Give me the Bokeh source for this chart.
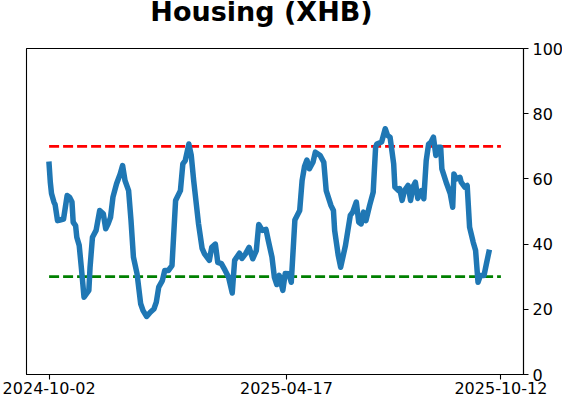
import pandas as pd
from bokeh.plotting import figure
from bokeh.layouts import column
from bokeh.models import Range1d, FixedTicker, DatetimeTickFormatter, Div
from bokeh.embed import file_html
from bokeh.resources import INLINE

dates = [
    "2024-10-02", "2024-10-03", "2024-10-04", "2024-10-06", "2024-10-07", "2024-10-09",
    "2024-10-11", "2024-10-14", "2024-10-17", "2024-10-19", "2024-10-21", "2024-10-22",
    "2024-10-24", "2024-10-25", "2024-10-27", "2024-10-29", "2024-10-31", "2024-11-04",
    "2024-11-05", "2024-11-07", "2024-11-10", "2024-11-13", "2024-11-16", "2024-11-18",
    "2024-11-20", "2024-11-22", "2024-11-24", "2024-11-27", "2024-11-30", "2024-12-02",
    "2024-12-04", "2024-12-07", "2024-12-09", "2024-12-11", "2024-12-14", "2024-12-17",
    "2024-12-19", "2024-12-22", "2024-12-25", "2024-12-28", "2024-12-30", "2025-01-01",
    "2025-01-04", "2025-01-06", "2025-01-09", "2025-01-12", "2025-01-15", "2025-01-19",
    "2025-01-21", "2025-01-23", "2025-01-26", "2025-01-28", "2025-01-30", "2025-02-03",
    "2025-02-06", "2025-02-08", "2025-02-12", "2025-02-14", "2025-02-17", "2025-02-19",
    "2025-02-22", "2025-02-25", "2025-02-28", "2025-03-03", "2025-03-05", "2025-03-09",
    "2025-03-11", "2025-03-14", "2025-03-17", "2025-03-20", "2025-03-23", "2025-03-25",
    "2025-03-28", "2025-03-31", "2025-04-02", "2025-04-05", "2025-04-07", "2025-04-09",
    "2025-04-11", "2025-04-14", "2025-04-16", "2025-04-19", "2025-04-21", "2025-04-23",
    "2025-04-24", "2025-04-28", "2025-04-30", "2025-05-02", "2025-05-04", "2025-05-06",
    "2025-05-09", "2025-05-11", "2025-05-15", "2025-05-18", "2025-05-20", "2025-05-24",
    "2025-05-26", "2025-05-27", "2025-05-30", "2025-06-01", "2025-06-05", "2025-06-07",
    "2025-06-09", "2025-06-11", "2025-06-14", "2025-06-16", "2025-06-18", "2025-06-20",
    "2025-06-22", "2025-06-25", "2025-06-28", "2025-06-30", "2025-07-01", "2025-07-05",
    "2025-07-08", "2025-07-10", "2025-07-12", "2025-07-15", "2025-07-16", "2025-07-19",
    "2025-07-20", "2025-07-22", "2025-07-24", "2025-07-27", "2025-07-29", "2025-07-31",
    "2025-08-02", "2025-08-04", "2025-08-07", "2025-08-09", "2025-08-11", "2025-08-13",
    "2025-08-15", "2025-08-17", "2025-08-19", "2025-08-21", "2025-08-23", "2025-08-24",
    "2025-08-28", "2025-08-31", "2025-09-02", "2025-09-03", "2025-09-05", "2025-09-08",
    "2025-09-09", "2025-09-12", "2025-09-14", "2025-09-16", "2025-09-19", "2025-09-21",
    "2025-09-23", "2025-09-25", "2025-09-28", "2025-09-30", "2025-10-02",
]
values = [
    64.5, 59.0, 55.5, 52.9, 52.1, 47.2,
    47.4, 47.7, 54.9, 54.4, 52.9, 46.7,
    45.7, 42.1, 39.6, 31.9, 23.7, 25.8,
    32.9, 42.1, 44.2, 50.3, 49.3, 44.7,
    46.2, 48.2, 54.4, 58.5, 61.5, 64.1,
    59.5, 56.4, 47.2, 36.0, 30.9, 21.7,
    19.6, 17.8, 19.1, 20.1, 22.2, 26.8,
    28.8, 31.9, 31.9, 33.4, 53.4, 56.4,
    64.6, 65.6, 70.7, 67.2, 59.5, 46.3,
    38.7, 37.0, 35.0, 39.0, 40.0, 34.4,
    34.0, 32.0, 29.8, 25.0, 35.0, 37.2,
    35.6, 37.0, 39.0, 35.5, 38.0, 46.0,
    44.2, 44.5, 41.0, 36.0, 29.8, 27.6,
    30.4, 25.8, 31.0, 30.9, 28.3, 41.0,
    47.4, 50.3, 59.5, 63.8, 65.8, 63.1,
    65.1, 68.2, 67.2, 65.1, 56.4, 51.8,
    50.3, 44.2, 36.5, 32.9, 39.6, 44.2,
    48.8, 49.8, 52.9, 46.7, 46.2, 49.8,
    47.2, 51.8, 55.9, 69.7, 70.7, 71.3,
    75.4, 73.3, 72.8, 64.6, 57.5, 56.4,
    57.0, 53.4, 56.4, 58.0, 53.4, 57.5,
    59.0, 54.0, 56.4, 53.9, 65.6, 70.7,
    71.3, 72.8, 67.2, 69.7, 69.7, 63.1,
    58.5, 55.4, 51.3, 61.5, 60.0, 60.5,
    59.0, 57.5, 58.0, 45.2, 40.6, 38.0,
    28.3, 30.4, 30.4, 34.0, 37.5,
]
tick_dates = ["2024-10-02", "2025-04-17", "2025-10-12"]
y_ticks = [0, 20, 40, 60, 80, 100]
upper_level = 70
lower_level = 30
title_text = "Housing (XHB)"

x = [d.to_pydatetime() for d in pd.to_datetime(dates)]
tdt = pd.to_datetime(tick_dates)
pad = (tdt[-1] - tdt[0]) * 0.05
x_start = (tdt[0] - pad).to_pydatetime()
x_end = (tdt[-1] + pad).to_pydatetime()
tick_ms = [int(t.value // 10**6) for t in tdt]

FONT = "DejaVu Sans"

p = figure(
    x_axis_type="datetime",
    y_axis_location="right",
    frame_width=497, frame_height=326,
    min_border_left=26, min_border_top=8, min_border_bottom=28, min_border_right=39,
    x_range=Range1d(x_start, x_end), y_range=Range1d(0, 100),
    output_backend="svg", toolbar_location=None,
)

p.xgrid.visible = False
p.ygrid.visible = False
p.outline_line_color = "black"
p.outline_line_width = 1.1
p.background_fill_color = "white"
p.border_fill_color = "white"

for ax in (p.xaxis[0], p.yaxis[0]):
    ax.axis_line_color = "black"
    ax.axis_line_width = 1.1
    ax.major_tick_line_color = "black"
    ax.major_tick_line_width = 1.1
    ax.major_tick_out = 5
    ax.major_tick_in = 0
    ax.minor_tick_line_color = None
    ax.major_label_text_font = FONT
    ax.major_label_text_font_size = "16px"
    ax.major_label_text_color = "black"

p.xaxis[0].ticker = FixedTicker(ticks=tick_ms)
fmt = "%Y-%m-%d"
p.xaxis[0].formatter = DatetimeTickFormatter(
    milliseconds=fmt, seconds=fmt, minsec=fmt, minutes=fmt, hourmin=fmt,
    hours=fmt, days=fmt, months=fmt, years=fmt, strip_leading_zeros=False,
)
p.xaxis[0].major_label_standoff = 2
p.yaxis[0].ticker = FixedTicker(ticks=y_ticks)
p.yaxis[0].major_label_standoff = 4

level_x = [tdt[0].to_pydatetime(), tdt[-1].to_pydatetime()]
p.line(level_x, [upper_level, upper_level], line_color="red", line_width=2.8, line_dash="10 4")
p.line(level_x, [lower_level, lower_level], line_color="green", line_width=2.8, line_dash="10 4")

p.line(x, values, line_color="#1f77b4", line_width=5.5, line_join="round", line_cap="square")

title = Div(
    text=(
        '<div style="font-family: \'DejaVu Sans\'; font-size: 27px; font-weight: bold; '
        'line-height: 24px; color: black; text-align: center; width: 497px; '
        'padding-left: 26px; margin-top: 0px; white-space: nowrap;">'
        + title_text + "</div>"
    ),
    width=562, height=40, margin=(0, 0, 0, 0),
)

layout = column(title, p, spacing=0, margin=(0, 0, 0, 0))

open("out.html", "w").write(file_html(layout, INLINE))
